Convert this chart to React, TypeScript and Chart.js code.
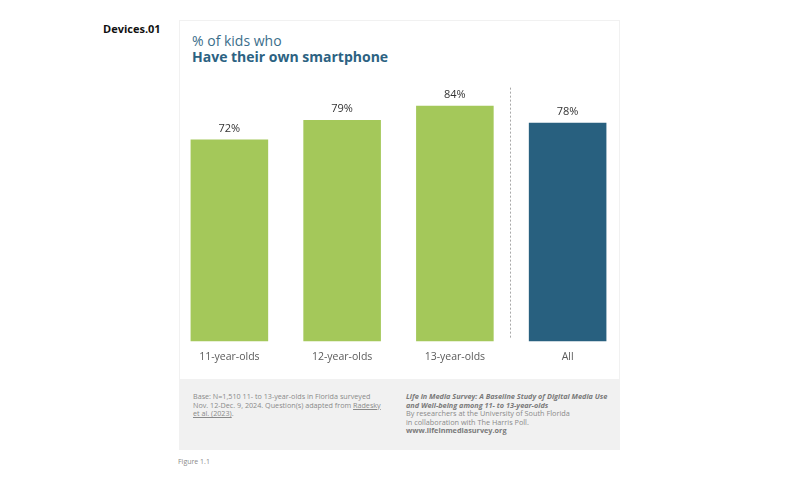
import React, { useEffect, useRef } from "react";
import { Chart, registerables } from "chart.js";

Chart.register(...registerables);

const categories = ["11-year-olds", "12-year-olds", "13-year-olds", "All"];
const values = [72, 79, 84, 78];
const barColors = ["#a4c85a", "#a4c85a", "#a4c85a", "#28607f"];
const valueSuffix = "%";
const dividerAfterIndex = 2;
const dividerTopValue = 90.5;

const FONT = "'Open Sans', 'Noto Sans', sans-serif";

const labelPlugin = {
  id: "valueLabels",
  afterDatasetsDraw(chart: any) {
    const ctx = chart.ctx;
    const meta = chart.getDatasetMeta(0);
    ctx.save();
    ctx.font = `11px ${FONT}`;
    ctx.fillStyle = "#333333";
    ctx.textAlign = "center";
    ctx.textBaseline = "middle";
    meta.data.forEach((bar: any, i: number) => {
      ctx.fillText(values[i] + valueSuffix, bar.x, bar.y - 11);
    });
    ctx.restore();
  },
};

const dividerPlugin = {
  id: "divider",
  afterDatasetsDraw(chart: any) {
    const ctx = chart.ctx;
    const xs = chart.scales.x;
    const ys = chart.scales.y;
    const x = (xs.getPixelForValue(dividerAfterIndex) + xs.getPixelForValue(dividerAfterIndex + 1)) / 2 - 1.5;
    ctx.save();
    ctx.strokeStyle = "#a8a8a8";
    ctx.lineWidth = 1;
    ctx.setLineDash([2, 2]);
    ctx.beginPath();
    ctx.moveTo(Math.round(x) + 0.5, ys.getPixelForValue(dividerTopValue));
    ctx.lineTo(Math.round(x) + 0.5, ys.getPixelForValue(0) - 3);
    ctx.stroke();
    ctx.restore();
  },
};

function BarChart() {
  const ref = useRef<HTMLCanvasElement>(null);
  useEffect(() => {
    if (!ref.current) return;
    const chart = new Chart(ref.current, {
      type: "bar",
      data: {
        labels: categories,
        datasets: [
          {
            data: values,
            backgroundColor: barColors,
            borderWidth: 0,
            categoryPercentage: 1,
            barPercentage: 0.688,
          },
        ],
      },
      options: {
        animation: false,
        responsive: false,
        maintainAspectRatio: false,
        layout: { padding: { top: 21, bottom: 0, left: 0, right: 0 } },
        plugins: { legend: { display: false }, tooltip: { enabled: false } },
        scales: {
          x: {
            grid: { display: false, drawTicks: false },
            border: { display: false },
            ticks: {
              color: "#5a5a5a",
              font: { family: FONT, size: 10.5 },
              padding: 9,
            },
          },
          y: { display: false, min: 0, max: 100 },
        },
      },
      plugins: [labelPlugin, dividerPlugin],
    });
    return () => chart.destroy();
  }, []);
  return <canvas ref={ref} width={451} height={332} style={{ position: "absolute", left: 173, top: 40, width: 451, height: 332 }} />;
}

export default function App() {
  return (
    <div style={{ position: "absolute", left: 0, top: 0, width: 800, height: 480, background: "#ffffff", fontFamily: FONT, overflow: "hidden" }}>
      <div style={{ position: "absolute", left: 103, top: 21, fontSize: 11, fontWeight: 700, color: "#111" }}>Devices.01</div>
      <div style={{ position: "absolute", left: 179, top: 20, width: 439, height: 358, border: "1px solid #f1f1f1", borderBottom: "none" }} />
      <div style={{ position: "absolute", left: 192, top: 32, fontSize: 14, color: "#3b6e8b", lineHeight: "17px" }}>% of kids who</div>
      <div style={{ position: "absolute", left: 192, top: 48, fontSize: 14, fontWeight: 700, color: "#2c6282", lineHeight: "17px" }}>Have their own smartphone</div>
      <BarChart />
      <div style={{ position: "absolute", left: 179, top: 379, width: 441, height: 71, background: "#f1f1f1" }} />
      <div style={{ position: "absolute", left: 193, top: 392, width: 193, fontSize: 7.2, lineHeight: "8.6px", color: "#8a8a8a" }}>
        Base: N=1,510 11- to 13-year-olds in Florida surveyed Nov. 12-Dec. 9, 2024. Question(s) adapted from{" "}
        <span style={{ textDecoration: "underline" }}>Radesky et al. (2023)</span>.
      </div>
      <div style={{ position: "absolute", left: 406, top: 392, width: 202, fontSize: 7.3, lineHeight: "8.6px", color: "#8a8a8a" }}>
        <div style={{ fontWeight: 700, fontStyle: "italic", color: "#7a7a7a" }}>
          Life in Media Survey: A Baseline Study of Digital Media Use and Well-being among 11- to 13-year-olds
        </div>
        <div>By researchers at the University of South Florida</div>
        <div>in collaboration with The Harris Poll.</div>
        <div style={{ fontWeight: 700, color: "#7a7a7a" }}>www.lifeinmediasurvey.org</div>
      </div>
      <div style={{ position: "absolute", left: 178, top: 457, fontSize: 7, color: "#8a8a8a" }}>Figure 1.1</div>
    </div>
  );
}
